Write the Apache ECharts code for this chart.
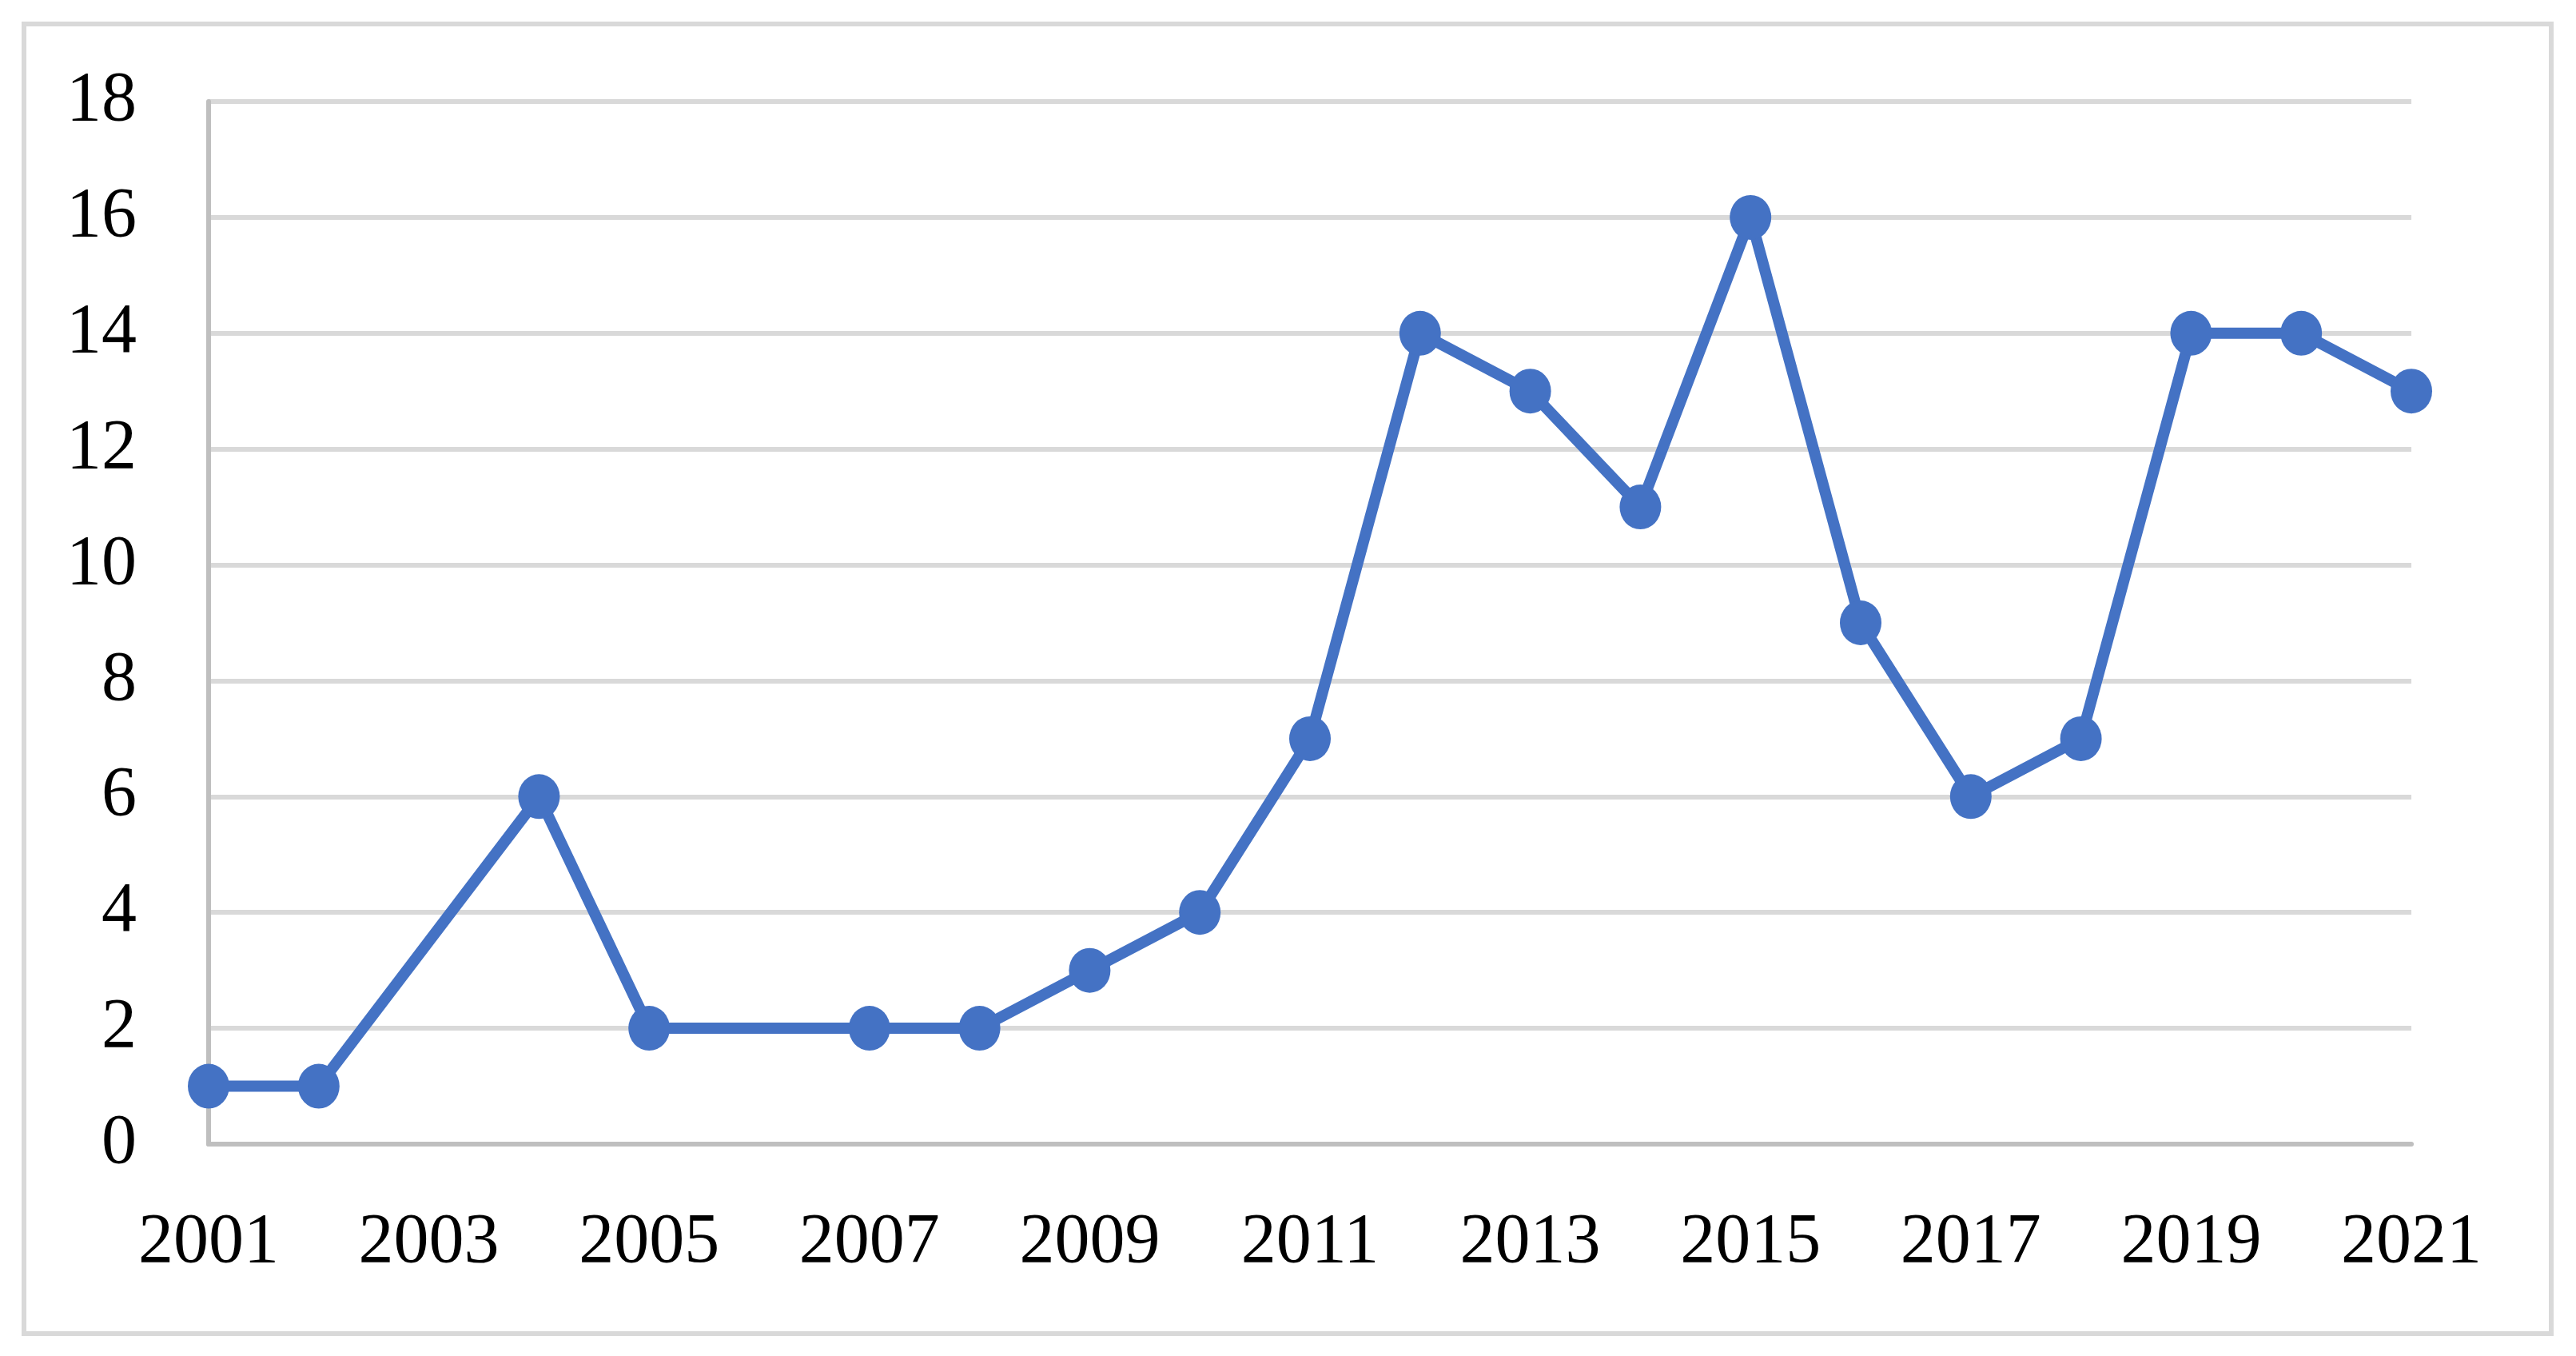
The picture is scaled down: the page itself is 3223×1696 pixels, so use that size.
<!DOCTYPE html>
<html>
<head>
<meta charset="utf-8">
<script src="https://cdn.jsdelivr.net/npm/echarts@6/dist/echarts.min.js"></script>
<style>
html,body{margin:0;padding:0;background:#fff;}
#chart{width:3223px;height:1696px;}
</style>
</head>
<body>
<div id="chart"></div>
<script>
var years = ['2001','2002','2003','2004','2005','2006','2007','2008','2009','2010','2011','2012','2013','2014','2015','2016','2017','2018','2019','2020','2021'];
var counts = [1, 1, null, 6, 2, null, 2, 2, 3, 4, 7, 14, 13, 11, 16, 9, 6, 7, 14, 14, 13];
var yTicks = [0, 2, 4, 6, 8, 10, 12, 14, 16, 18];

var chart = echarts.init(document.getElementById('chart'), null, {renderer: 'canvas'});
var fontFamily = '"Liberation Serif", "DejaVu Serif", serif';
chart.setOption({
  backgroundColor: '#ffffff',
  animation: false,
  graphic: [{
    type: 'rect',
    shape: {x: 30, y: 30, width: 3162, height: 1638},
    style: {fill: 'none', stroke: '#d9d9d9', lineWidth: 6},
    silent: true
  }],
  grid: {left: 261, right: 206, top: 127, bottom: 265, containLabel: false},
  xAxis: {
    type: 'category',
    data: years,
    boundaryGap: false,
    axisLine: {show: true, lineStyle: {color: '#bfbfbf', width: 6}},
    axisTick: {show: false},
    splitLine: {show: false},
    axisLabel: {
      interval: 1,
      margin: 80,
      color: '#000000',
      fontFamily: fontFamily,
      fontSize: 88
    }
  },
  yAxis: {
    type: 'value',
    min: yTicks[0],
    max: yTicks[yTicks.length - 1],
    interval: 2,
    axisLine: {show: true, lineStyle: {color: '#bfbfbf', width: 6}},
    axisTick: {show: false},
    splitLine: {show: true, lineStyle: {color: '#d9d9d9', width: 6}},
    axisLabel: {
      margin: 90,
      color: '#000000',
      fontFamily: fontFamily,
      fontSize: 88
    }
  },
  series: [{
    type: 'line',
    data: counts,
    connectNulls: true,
    symbol: 'circle',
    symbolSize: [52, 56],
    showAllSymbol: true,
    lineStyle: {color: '#4472c4', width: 14},
    itemStyle: {color: '#4472c4'},
    z: 5
  }]
});
</script>
</body>
</html>
